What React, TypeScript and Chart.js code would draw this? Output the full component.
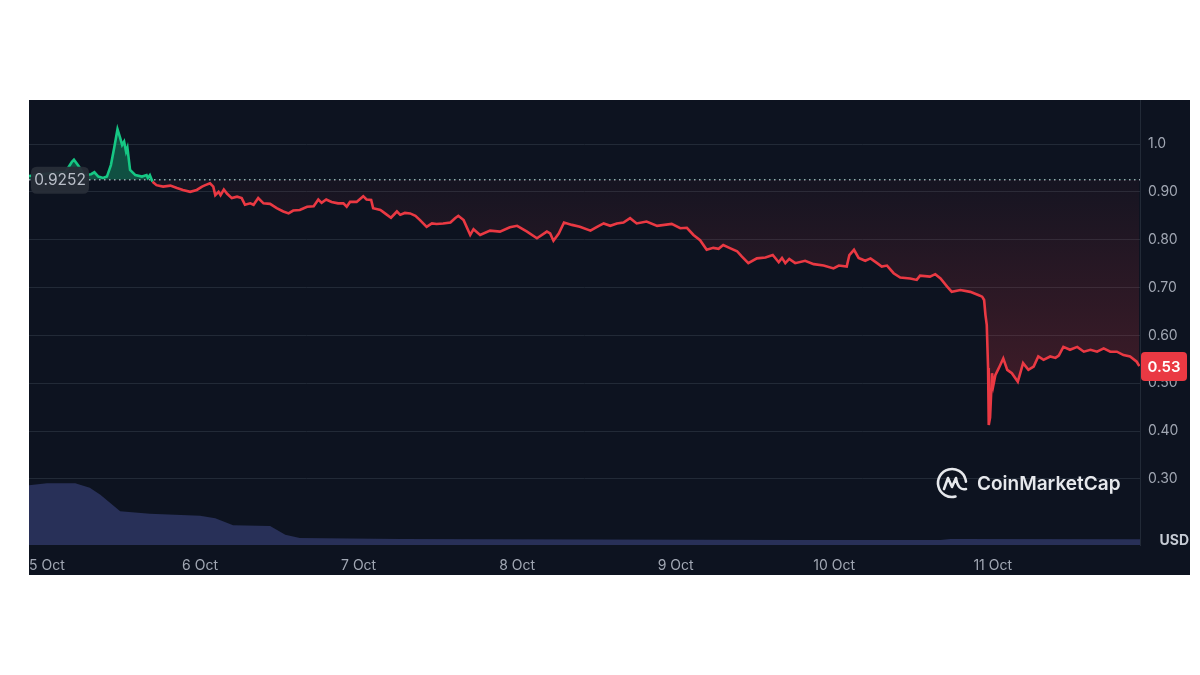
import React, { useEffect, useRef } from 'react';
import { Chart, registerables } from 'chart.js';

Chart.register(...registerables);

const REF_PRICE = 0.9252;
const REF_LABEL = '0.9252';
const LAST_LABEL = '0.53';

// hours since 5 Oct 00:00
const HOURS = [
  -1.9, 1.3, 3.6, 4.6, 4.9, 5.5, 5.8, 6.4, 7.5, 8.0,
  8.6, 9.3, 9.9, 10.5, 11.0, 11.5, 11.9, 12.2, 12.5, 12.8,
  13.0, 13.4, 14.2, 15.2, 15.9, 16.1, 16.4, 16.8, 17.4, 18.4,
  19.5, 20.5, 21.4, 22.5, 23.5, 24.3, 24.8, 25.5, 26.0, 26.3,
  26.8, 27.1, 27.6, 28.1, 28.8, 29.6, 30.3, 30.8, 31.6, 32.1,
  32.8, 33.6, 34.6, 35.6, 36.6, 37.4, 38.1, 39.1, 40.2, 41.2,
  41.9, 42.4, 43.1, 43.9, 44.9, 45.7, 46.2, 46.7, 47.7, 48.7,
  49.2, 49.9, 50.2, 51.3, 52.0, 52.9, 53.8, 54.3, 55.0, 55.8,
  56.6, 57.3, 58.3, 59.1, 59.8, 60.8, 61.9, 62.6, 63.1, 63.9,
  64.9, 65.4, 66.4, 67.9, 69.4, 70.9, 72.0, 73.5, 75.0, 76.5,
  77.0, 77.5, 78.3, 79.1, 80.3, 81.5, 83.1, 84.1, 85.1, 86.1,
  87.1, 88.1, 89.1, 90.1, 91.6, 93.2, 95.4, 96.7, 97.7, 98.7,
  99.7, 100.7, 101.7, 102.5, 103.2, 104.3, 105.3, 106.0, 107.0, 108.3,
  109.6, 110.7, 111.6, 112.1, 112.6, 113.2, 114.1, 115.6, 116.9, 118.4,
  119.9, 120.7, 121.9, 122.3, 123.0, 123.7, 124.7, 125.5, 126.5, 127.2,
  128.0, 129.0, 130.0, 131.5, 132.5, 133.0, 134.5, 135.3, 136.1, 137.1,
  137.8, 139.1, 140.6, 141.9, 142.4, 142.7, 142.9, 143.1, 143.3, 143.4,
  143.6, 143.9, 144.1, 144.4, 144.9, 145.6, 146.2, 146.9, 147.8, 148.6,
  149.4, 150.2, 150.9, 151.7, 152.7, 153.5, 154.0, 154.7, 155.7, 156.8,
  157.8, 158.8, 159.8, 160.8, 161.8, 162.8, 163.8, 164.8, 165.8, 166.2,
];

const PRICES = [
  0.933, 0.939, 0.941, 0.963, 0.967, 0.956, 0.950, 0.935, 0.937, 0.941,
  0.932, 0.929, 0.932, 0.956, 0.992, 1.031, 1.013, 0.998, 1.005, 0.984,
  0.992, 0.946, 0.935, 0.932, 0.935, 0.929, 0.935, 0.921, 0.914, 0.911,
  0.913, 0.908, 0.904, 0.900, 0.904, 0.911, 0.914, 0.918, 0.911, 0.893,
  0.900, 0.893, 0.905, 0.896, 0.887, 0.890, 0.887, 0.873, 0.876, 0.873,
  0.887, 0.876, 0.875, 0.866, 0.859, 0.855, 0.861, 0.862, 0.869, 0.870,
  0.884, 0.877, 0.884, 0.879, 0.876, 0.876, 0.869, 0.879, 0.879, 0.891,
  0.884, 0.883, 0.866, 0.862, 0.855, 0.846, 0.859, 0.852, 0.856, 0.855,
  0.850, 0.841, 0.827, 0.834, 0.833, 0.834, 0.836, 0.845, 0.850, 0.841,
  0.810, 0.822, 0.810, 0.819, 0.817, 0.826, 0.829, 0.817, 0.803, 0.817,
  0.813, 0.798, 0.813, 0.836, 0.831, 0.827, 0.819, 0.827, 0.834, 0.829,
  0.834, 0.836, 0.845, 0.834, 0.838, 0.829, 0.833, 0.824, 0.825, 0.810,
  0.799, 0.779, 0.783, 0.781, 0.789, 0.782, 0.776, 0.765, 0.751, 0.761,
  0.763, 0.768, 0.753, 0.762, 0.751, 0.760, 0.751, 0.756, 0.749, 0.746,
  0.740, 0.746, 0.744, 0.768, 0.779, 0.762, 0.756, 0.761, 0.751, 0.744,
  0.746, 0.730, 0.721, 0.719, 0.716, 0.725, 0.723, 0.728, 0.719, 0.702,
  0.691, 0.695, 0.691, 0.684, 0.681, 0.674, 0.643, 0.622, 0.532, 0.413,
  0.428, 0.521, 0.496, 0.517, 0.531, 0.552, 0.528, 0.521, 0.503, 0.542,
  0.528, 0.535, 0.556, 0.549, 0.556, 0.553, 0.558, 0.576, 0.570, 0.576,
  0.566, 0.570, 0.566, 0.573, 0.566, 0.566, 0.559, 0.556, 0.545, 0.536,
];

const VOL_HOURS = [-1.9, 0.8, 5.1, 7.3, 8.9, 10.4, 11.9, 16.4, 24.0, 26.3, 29.0, 34.6, 36.9, 39.1, 54.3, 84.6, 114.9, 136.1, 137.6, 166.3];
const VOLUMES = [94, 97, 97, 90, 79, 66, 53, 49, 46, 42, 31, 30, 16, 11, 9.5, 8.6, 8, 8, 9.5, 9];

const X_TICK_HOURS = [0, 24, 48, 72, 96, 120, 144];
const X_TICK_LABELS = ['5 Oct', '6 Oct', '7 Oct', '8 Oct', '9 Oct', '10 Oct', '11 Oct'];
const Y_TICKS = [0.3, 0.4, 0.5, 0.6, 0.7, 0.8, 0.9, 1.0];
const Y_TICK_LABELS = ['0.30', '0.40', '0.50', '0.60', '0.70', '0.80', '0.90', '1.0'];

const X_MIN = -1.9;
const X_MAX = 166.3;
const Y_MIN = 0.162;
const Y_MAX = 1.092;
const VOL_MAX = 700;

const GREEN = '#16c784';
const RED = '#ea3943';
const PANEL = '#0d1320';
const GRID = '#222a37';
const TEXT = '#a1a7b3';
const FONT = 'Inter, "Noto Sans", sans-serif';
const Y_AXIS_W = 50;
const X_AXIS_H = 30;

function roundRect(ctx: CanvasRenderingContext2D, x: number, y: number, w: number, h: number, r: number) {
  ctx.beginPath();
  ctx.moveTo(x + r, y);
  ctx.lineTo(x + w - r, y);
  ctx.quadraticCurveTo(x + w, y, x + w, y + r);
  ctx.lineTo(x + w, y + h - r);
  ctx.quadraticCurveTo(x + w, y + h, x + w - r, y + h);
  ctx.lineTo(x + r, y + h);
  ctx.quadraticCurveTo(x, y + h, x, y + h - r);
  ctx.lineTo(x, y + r);
  ctx.quadraticCurveTo(x, y, x + r, y);
  ctx.closePath();
}

const decorPlugin = {
  id: 'decor',
  beforeDraw(chart: any) {
    const { ctx, chartArea: a, width, height } = chart;
    ctx.save();
    ctx.fillStyle = '#ffffff';
    ctx.fillRect(0, 0, width, height);
    ctx.fillStyle = PANEL;
    ctx.fillRect(a.left, a.top, a.right + Y_AXIS_W - a.left, a.bottom + X_AXIS_H - a.top);
    ctx.restore();
  },
  beforeDatasetsDraw(chart: any) {
    const { ctx, chartArea: a } = chart;
    const y = chart.scales.y.getPixelForValue(REF_PRICE);
    ctx.save();
    ctx.strokeStyle = 'rgba(215,220,230,0.75)';
    ctx.lineWidth = 1.5;
    ctx.setLineDash([1.5, 3.5]);
    ctx.beginPath();
    ctx.moveTo(a.left, y);
    ctx.lineTo(a.right, y);
    ctx.stroke();
    ctx.restore();
  },
  afterDatasetsDraw(chart: any) {
    const { ctx, chartArea: a } = chart;
    const y = chart.scales.y.getPixelForValue(REF_PRICE);
    ctx.save();
    roundRect(ctx, a.left + 2, y - 13, 58, 27, 6);
    ctx.fillStyle = 'rgba(40,45,56,0.95)';
    ctx.fill();
    ctx.fillStyle = '#b9bec8';
    ctx.font = `15.5px ${FONT}`;
    ctx.textAlign = 'center';
    ctx.textBaseline = 'middle';
    ctx.fillText(REF_LABEL, a.left + 31, y + 0.5);
    ctx.restore();
  },
  afterDraw(chart: any) {
    const { ctx, chartArea: a } = chart;
    const xs = chart.scales.x;
    const ys = chart.scales.y;
    ctx.save();
    // x labels
    ctx.font = `14px ${FONT}`;
    ctx.fillStyle = TEXT;
    ctx.textBaseline = 'middle';
    X_TICK_HOURS.forEach((h, i) => {
      const px = xs.getPixelForValue(h);
      const w = ctx.measureText(X_TICK_LABELS[i]).width;
      let left = px - w / 2;
      if (left < a.left) left = a.left;
      ctx.textAlign = 'left';
      ctx.fillText(X_TICK_LABELS[i], left, a.bottom + 21);
    });
    // USD
    ctx.font = `bold 14px ${FONT}`;
    ctx.fillStyle = '#c6cbd4';
    ctx.textAlign = 'right';
    ctx.fillText('USD', a.right + Y_AXIS_W - 1, a.bottom - 4);
    // last price badge
    const ly = ys.getPixelForValue(PRICES[PRICES.length - 1]);
    roundRect(ctx, a.right + 1, ly - 14, 46, 29, 4);
    ctx.fillStyle = RED;
    ctx.fill();
    ctx.fillStyle = '#ffffff';
    ctx.font = `600 15px ${FONT}`;
    ctx.textAlign = 'center';
    ctx.fillText(LAST_LABEL, a.right + 24, ly + 1);
    // watermark
    const cx = a.right - 188;
    const cy = a.top + 383;
    ctx.strokeStyle = '#e6e8ec';
    ctx.lineWidth = 2.6;
    ctx.lineCap = 'round';
    ctx.lineJoin = 'round';
    ctx.beginPath();
    ctx.arc(cx, cy, 14, 0.42 * Math.PI, 1.97 * Math.PI);
    ctx.stroke();
    ctx.beginPath();
    ctx.moveTo(cx - 8, cy + 6);
    ctx.lineTo(cx - 4, cy - 5);
    ctx.lineTo(cx, cy + 4);
    ctx.lineTo(cx + 4, cy - 5);
    ctx.quadraticCurveTo(cx + 6, cy + 8, cx + 14, cy + 6);
    ctx.stroke();
    ctx.fillStyle = '#e6e8ec';
    ctx.font = `600 19px ${FONT}`;
    ctx.textAlign = 'left';
    ctx.textBaseline = 'middle';
    ctx.fillText('CoinMarketCap', cx + 25, cy + 1);
    ctx.restore();
  },
};

export default function App() {
  const ref = useRef<HTMLCanvasElement | null>(null);

  useEffect(() => {
    if (!ref.current) return;
    const priceData = HOURS.map((h, i) => ({ x: h, y: PRICES[i] }));
    const volData = VOL_HOURS.map((h, i) => ({ x: h, y: VOLUMES[i] }));

    const chart = new Chart(ref.current, {
      type: 'line',
      data: {
        datasets: [
          {
            label: 'Price',
            data: priceData,
            yAxisID: 'y',
            order: 1,
            borderWidth: 2.6,
            pointRadius: 0,
            tension: 0,
            borderColor: RED,
            fill: { target: { value: REF_PRICE }, above: 'rgba(22,199,132,0.34)' },
            backgroundColor: (c: any) => {
              const chart = c.chart;
              const ys = chart.scales && chart.scales.y;
              if (!chart.chartArea || !ys) return 'rgba(234,57,67,0.12)';
              const g = chart.ctx.createLinearGradient(0, ys.getPixelForValue(REF_PRICE), 0, ys.getPixelForValue(0.45));
              g.addColorStop(0, 'rgba(234,57,67,0.04)');
              g.addColorStop(1, 'rgba(234,57,67,0.24)');
              return g;
            },
            segment: {
              borderColor: (c: any) => ((c.p0.parsed.y + c.p1.parsed.y) / 2 >= REF_PRICE ? GREEN : RED),
            },
          } as any,
          {
            label: 'Volume',
            data: volData,
            yAxisID: 'yv',
            order: 2,
            borderWidth: 0,
            pointRadius: 0,
            tension: 0,
            fill: 'origin',
            backgroundColor: '#283058',
          } as any,
        ],
      },
      options: {
        responsive: false,
        animation: false,
        devicePixelRatio: 1,
        layout: { padding: { left: 29, top: 100, right: 10, bottom: 100 } },
        plugins: { legend: { display: false }, tooltip: { enabled: false } },
        scales: {
          x: {
            type: 'linear',
            min: X_MIN,
            max: X_MAX,
            grid: { display: false },
            border: { display: false },
            ticks: { display: false },
            afterFit: (s: any) => { s.height = X_AXIS_H; },
          },
          y: {
            type: 'linear',
            position: 'right',
            min: Y_MIN,
            max: Y_MAX,
            afterBuildTicks: (s: any) => { s.ticks = Y_TICKS.map((v) => ({ value: v })); },
            afterFit: (s: any) => { s.width = Y_AXIS_W; },
            grid: { color: GRID, lineWidth: 1, drawTicks: false },
            border: { display: true, color: GRID },
            ticks: {
              padding: 8,
              color: TEXT,
              font: { size: 14, family: FONT },
              callback: (v: any) => {
                const i = Y_TICKS.findIndex((t) => Math.abs(t - Number(v)) < 1e-6);
                return i >= 0 ? Y_TICK_LABELS[i] : '';
              },
            },
          },
          yv: {
            type: 'linear',
            display: false,
            min: 0,
            max: VOL_MAX,
          },
        },
      },
      plugins: [decorPlugin],
    });
    return () => chart.destroy();
  }, []);

  return (
    <div style={{ position: 'fixed', left: 0, top: 0, width: 1200, height: 675, background: '#fff' }}>
      <canvas ref={ref} width={1200} height={675} style={{ display: 'block', width: 1200, height: 675 }} />
    </div>
  );
}
